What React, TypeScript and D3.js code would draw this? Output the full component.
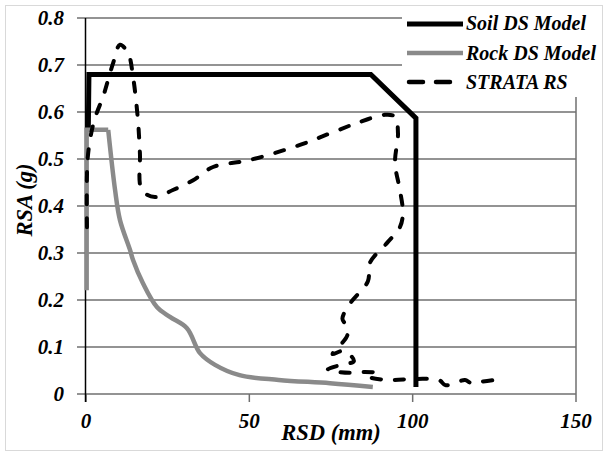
import React from "react";
import * as d3 from "d3";

// RSD (mm) vs RSA (g) pairs for each series
const soilRsd = [0.7, 0.9, 87.2, 101, 101];
const soilRsa = [0.56, 0.68, 0.68, 0.587, 0.015];

const rockRsd = [0.2, 0.2, 6.8, 8.9, 10.4, 13.5, 14.4, 17.4, 21.7, 25.7, 30.9, 34.9, 39.5, 47, 59, 74.7, 87.8];
const rockRsa = [0.221, 0.562, 0.562, 0.434, 0.37, 0.306, 0.285, 0.236, 0.185, 0.164, 0.14, 0.087, 0.062, 0.04, 0.03, 0.023, 0.015];

const strataRsd = [
  0.3, 0.5, 1.9, 3.3, 5.2, 8.3, 10.4, 12.9, 14.4, 15.9, 16.5, 17.1, 21.1, 26.6, 32.8, 38.9,
  50.2, 65.5, 75.6, 83.9, 91.5, 94.6, 95.5, 94.6, 96.1, 97, 96.1, 92.1, 86.9, 86.3, 81,
  78.5, 79.8, 80, 78, 75.5, 79, 82, 78, 74, 77, 81, 85, 88.5, 86.5, 92, 101, 108, 110,
  113, 116, 118, 121, 125.2,
];
const strataRsa = [
  0.355, 0.5, 0.565, 0.598, 0.632, 0.704, 0.743, 0.725, 0.675, 0.583, 0.513, 0.434, 0.419, 0.434, 0.455, 0.483,
  0.498, 0.53, 0.557, 0.579, 0.594, 0.59, 0.555, 0.491, 0.434, 0.385, 0.355, 0.321, 0.279, 0.24, 0.194,
  0.16, 0.145, 0.125, 0.105, 0.085, 0.092, 0.07, 0.062, 0.052, 0.047, 0.045, 0.047, 0.045, 0.037, 0.03, 0.032, 0.03, 0.019,
  0.023, 0.03, 0.023, 0.026, 0.03,
];

const xTicks = [0, 50, 100, 150];
const yTicks = [0, 0.1, 0.2, 0.3, 0.4, 0.5, 0.6, 0.7, 0.8];

const legendNames = ["Soil DS Model", "Rock DS Model", "STRATA RS"];

const W = 608;
const H = 455;
const FONT = "Liberation Serif";

export default function App() {
  const x = d3.scaleLinear().domain([0, 150]).range([86, 576]);
  const y = d3.scaleLinear().domain([0, 0.8]).range([394, 18]);

  const straight = d3
    .line<[number, number]>()
    .x((d) => x(d[0]))
    .y((d) => y(d[1]));
  const smooth = d3
    .line<[number, number]>()
    .x((d) => x(d[0]))
    .y((d) => y(d[1]))
    .curve(d3.curveCatmullRom.alpha(0.5));

  const pairs = (a: number[], b: number[]) => a.map((v, i) => [v, b[i]] as [number, number]);

  const soil = straight(pairs(soilRsd, soilRsa)) || "";
  // flat-topped plateau drawn straight, decaying branch drawn smooth
  const rockPts = pairs(rockRsd, rockRsa);
  const rockTop = straight(rockPts.slice(0, 3)) || "";
  const rockTail = smooth(rockPts.slice(2)) || "";
  const strata = smooth(pairs(strataRsd, strataRsa)) || "";

  const styles = [
    { stroke: "#000", width: 5, dash: undefined as string | undefined, legendDash: undefined as string | undefined },
    { stroke: "#8a8a8a", width: 4.5, dash: undefined as string | undefined, legendDash: undefined as string | undefined },
    { stroke: "#000", width: 4, dash: "9 14", legendDash: "14 13" },
  ];

  const txt = { fontWeight: "bold" as const, fontStyle: "italic" as const, fontFamily: FONT };

  return (
    <svg width={W} height={H} style={{ position: "absolute", left: 0, top: 0, background: "#fff" }}>
      <rect x={0} y={0} width={W} height={H} fill="#fff" />

      {/* horizontal gridlines */}
      {yTicks.map((t) => (
        <line key={"g" + t} x1={x(0)} x2={x(150)} y1={y(t)} y2={y(t)} stroke="#6f6f6f" strokeWidth={1.5} />
      ))}
      {/* y tick marks */}
      {yTicks.map((t) => (
        <line key={"yt" + t} x1={x(0) - 9} x2={x(0)} y1={y(t)} y2={y(t)} stroke="#6f6f6f" strokeWidth={1.5} />
      ))}
      {/* x tick marks */}
      {xTicks.map((t) => (
        <line key={"xt" + t} x1={x(t)} x2={x(t)} y1={y(0)} y2={y(0) + 8} stroke="#6f6f6f" strokeWidth={1.5} />
      ))}
      {/* right border of the plot */}
      <line x1={x(150)} x2={x(150)} y1={y(0.8)} y2={y(0)} stroke="#6f6f6f" strokeWidth={1.5} />
      {/* y axis */}
      <line x1={x(0) - 0.5} x2={x(0) - 0.5} y1={y(0.8)} y2={y(0) + 8} stroke="#000" strokeWidth={1.5} />

      {/* series */}
      <path d={soil} fill="none" stroke={styles[0].stroke} strokeWidth={styles[0].width} strokeLinejoin="miter" />
      <path d={rockTop} fill="none" stroke={styles[1].stroke} strokeWidth={styles[1].width} strokeLinejoin="miter" />
      <path d={rockTail} fill="none" stroke={styles[1].stroke} strokeWidth={styles[1].width} strokeLinejoin="round" />
      <path
        d={strata}
        fill="none"
        stroke={styles[2].stroke}
        strokeWidth={styles[2].width}
        strokeDasharray={styles[2].dash}
        strokeLinecap="round"
        strokeLinejoin="round"
      />

      {/* tick labels */}
      {yTicks.map((t) => (
        <text key={"yl" + t} x={64} y={y(t) + 7} textAnchor="end" fontSize={21} style={txt}>
          {t === 0 ? "0" : t.toFixed(1)}
        </text>
      ))}
      {xTicks.map((t) => (
        <text key={"xl" + t} x={x(t)} y={428} textAnchor="middle" fontSize={21} style={txt}>
          {t}
        </text>
      ))}

      {/* axis titles */}
      <text x={331} y={440} textAnchor="middle" fontSize={22.5} style={txt}>
        RSD (mm)
      </text>
      <text transform="translate(32,200) rotate(-90)" textAnchor="middle" fontSize={22.5} style={txt}>
        RSA (g)
      </text>

      {/* legend */}
      <rect x={402} y={0} width={200} height={97} fill="#fff" />
      {legendNames.map((name, i) => (
        <g key={name}>
          <line
            x1={i === 2 ? 409 : 407}
            x2={i === 2 ? 461 : 463}
            y1={24 + i * 29}
            y2={24 + i * 29}
            stroke={styles[i].stroke}
            strokeWidth={i === 2 ? 4.5 : styles[i].width}
            strokeDasharray={styles[i].legendDash}
            strokeLinecap={i === 2 ? "round" : "butt"}
          />
          <text x={466} y={30 + i * 29.5} fontSize={20} style={txt}>
            {name}
          </text>
        </g>
      ))}
      <rect x={5.5} y={5.5} width={597} height={445} fill="none" stroke="#d9d9d9" strokeWidth={1} />
    </svg>
  );
}
